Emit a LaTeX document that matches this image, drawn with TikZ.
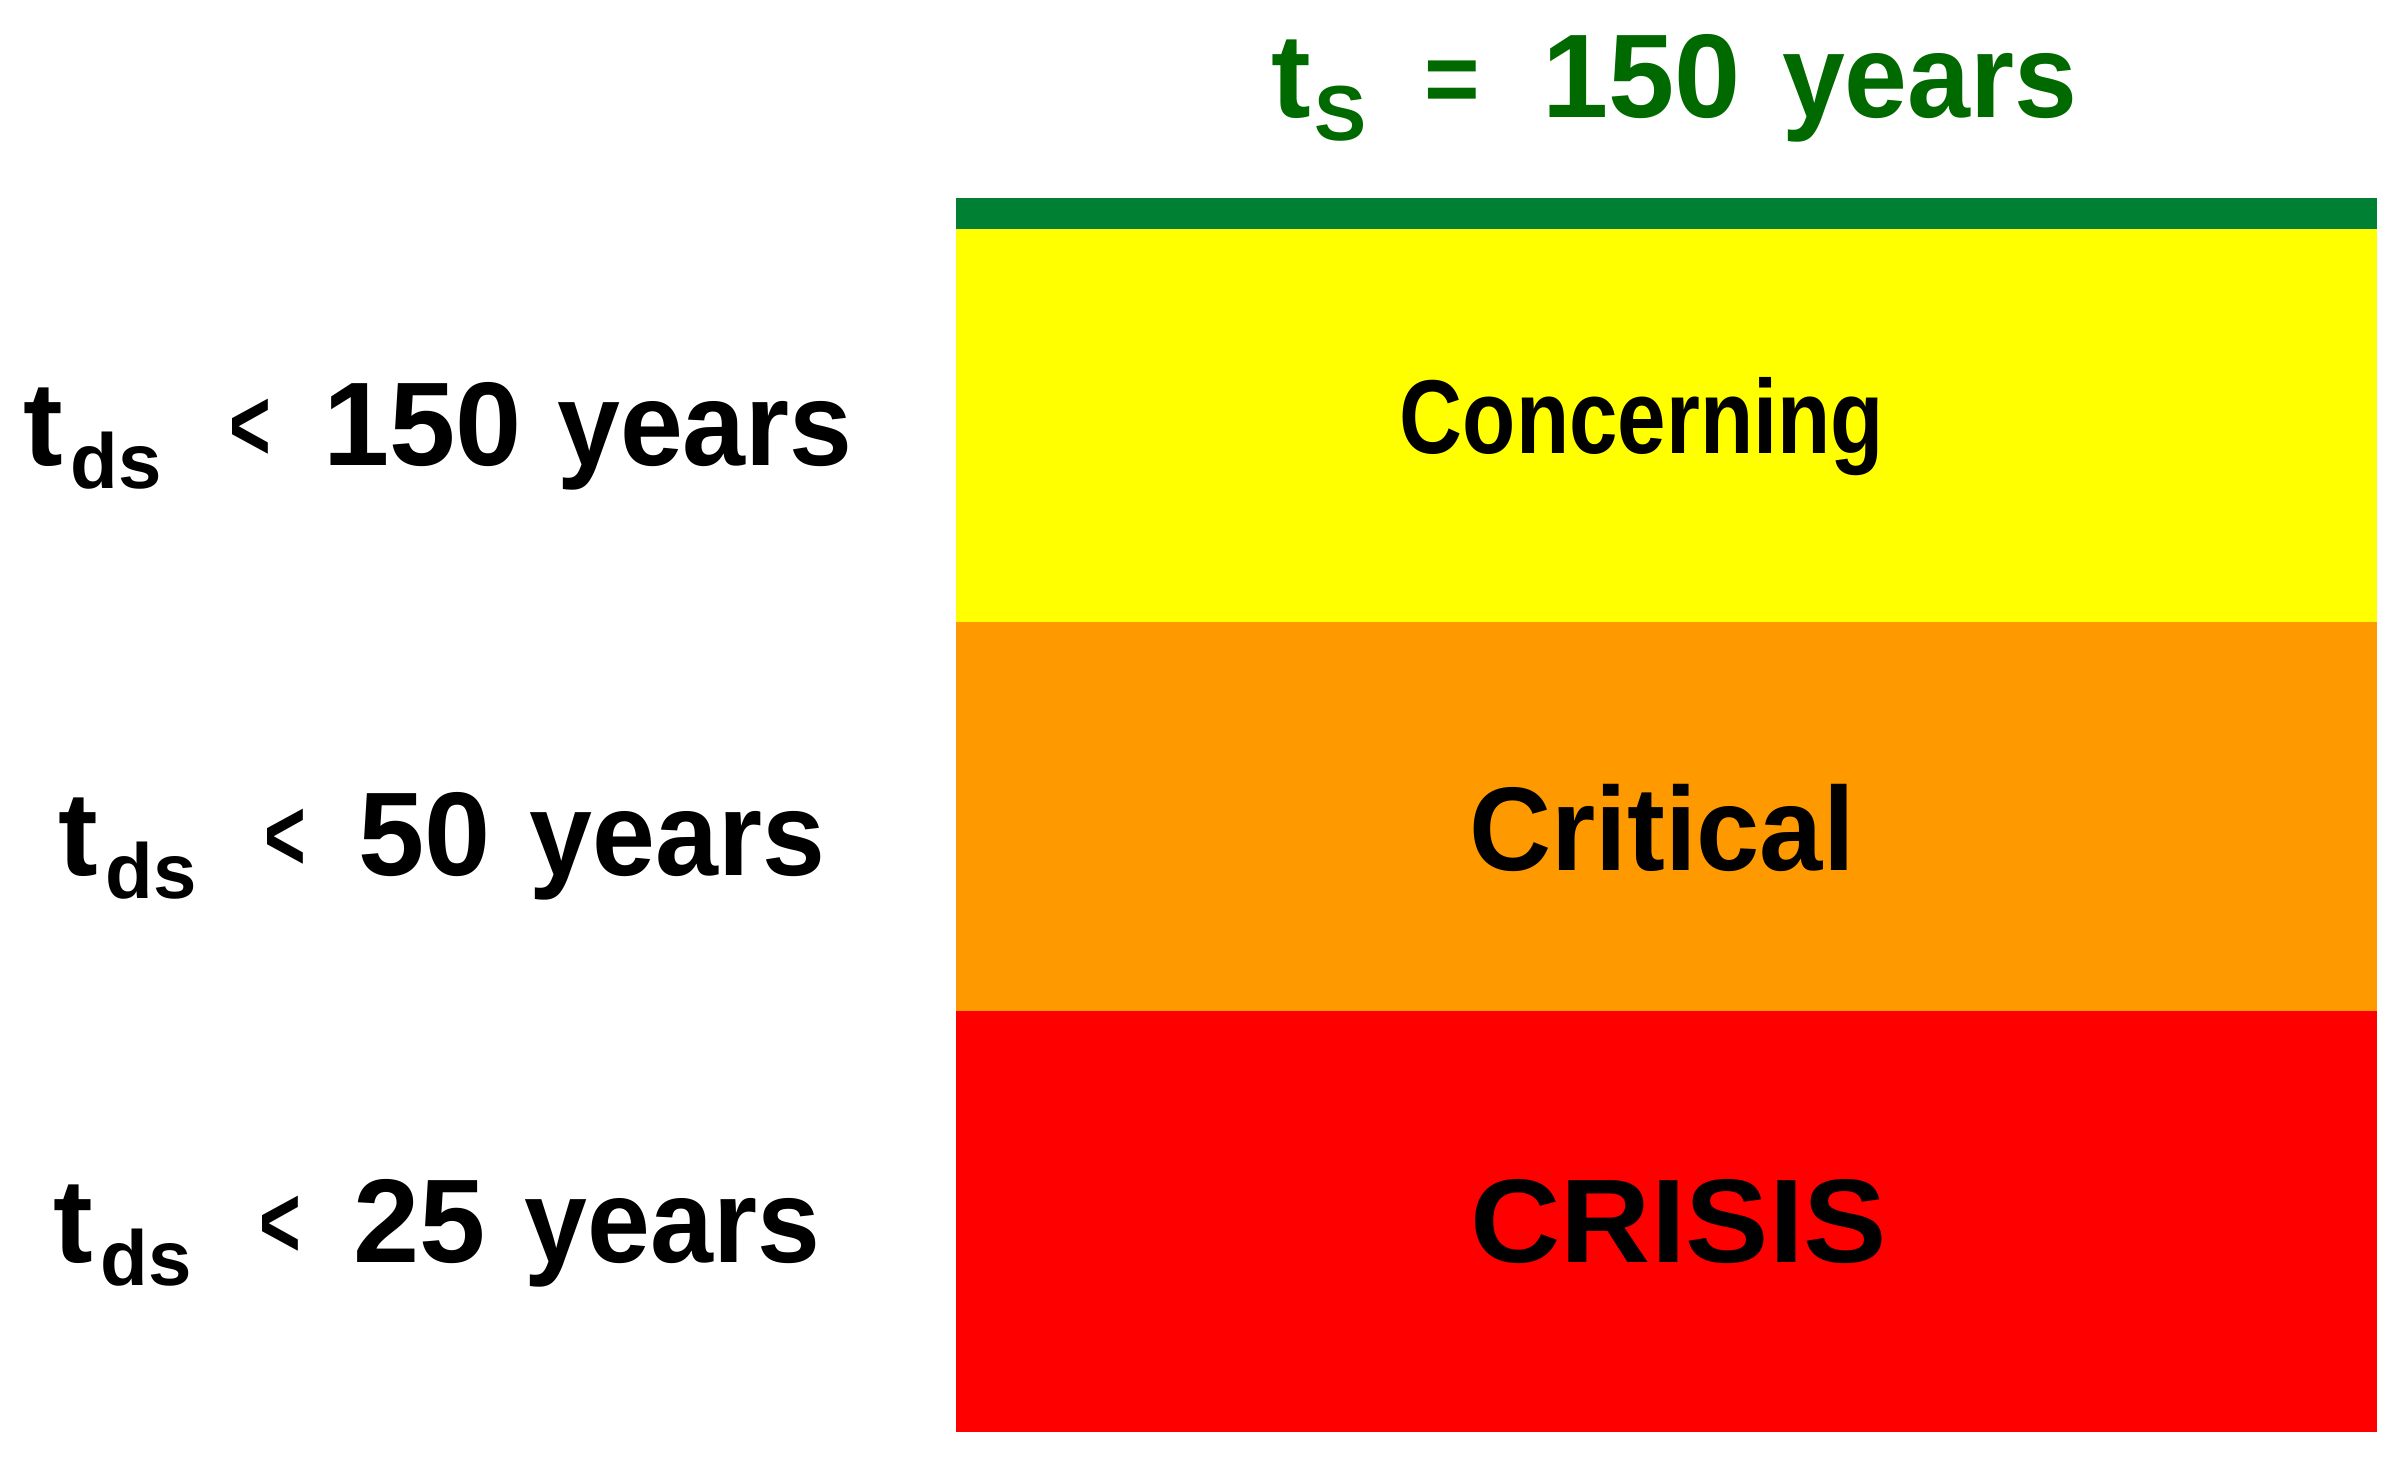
\documentclass[tikz,border=0pt]{standalone}
\usepackage{fontspec}
\setmainfont{Liberation Sans}
\definecolor{barGreen}{RGB}{0,128,51}
\definecolor{titleGreen}{RGB}{0,105,0}
\definecolor{zYellow}{RGB}{255,255,0}
\definecolor{zOrange}{RGB}{255,153,0}
\definecolor{zRed}{RGB}{255,0,0}
\newcommand{\bigtxt}{\fontsize{119}{140}\selectfont\bfseries}
\newcommand{\subtxt}[1]{\raisebox{-23pt}{\fontsize{78}{90}\selectfont\bfseries #1}}
\newcommand{\smalllt}{\raisebox{5pt}{\scalebox{0.6}[0.86]{<}}}
\newcommand{\smalleq}{\raisebox{4pt}{\scalebox{0.8}[0.85]{=}}}
\newcommand{\yrs}{\scalebox{0.95}[1]{years}}
\tikzset{
  lbl/.style={anchor=base west, inner sep=0pt, font=\bigtxt},
  zonelbl/.style={anchor=base, inner sep=0pt, font=\bigtxt}
}
\begin{document}
\begin{tikzpicture}[x=1pt,y=-1pt]
\useasboundingbox (0,0) rectangle (2393,1462);
\fill[white] (0,0) rectangle (2393,1462);
% zones
\fill[barGreen] (956,198) rectangle (2377,229);
\fill[zYellow] (956,229) rectangle (2377,622);
\fill[zOrange] (956,622) rectangle (2377,1011);
\fill[zRed] (956,1011) rectangle (2377,1432);
% title
\node[lbl, text=titleGreen] (title) at (1271,117) {t\hspace{4pt}\subtxt{S}\hspace{58pt}\smalleq\hspace{62pt}150\hspace{8pt} \yrs};
% left labels
\node[lbl] (l1) at (23,465) {t\hspace{8pt}\subtxt{ds}\hspace{68pt}\smalllt\hspace{52pt}150\hspace{2pt} \yrs};
\node[lbl] (l2) at (58,875) {t\hspace{8pt}\subtxt{ds}\hspace{68pt}\smalllt\hspace{52pt}50\hspace{6pt} \yrs};
\node[lbl] (l3) at (53,1262) {t\hspace{8pt}\subtxt{ds}\hspace{68pt}\smalllt\hspace{52pt}25\hspace{6pt} \yrs};
% zone labels
\node[zonelbl] (z1) at (1642,453) {\scalebox{0.83}[1]{\fontsize{105}{120}\selectfont\bfseries Concerning}};
\node[zonelbl] (z2) at (1662,870) {\scalebox{0.955}[1]{Critical}};
\node[zonelbl] (z3) at (1679,1262) {\scalebox{1.05}[1]{CRISIS}};
\end{tikzpicture}
\end{document}
